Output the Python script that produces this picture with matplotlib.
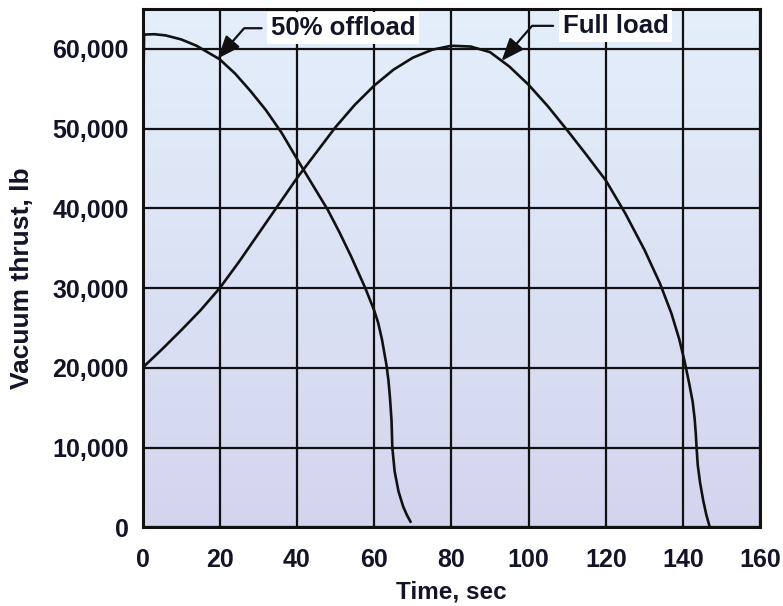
import numpy as np
import matplotlib
matplotlib.use("Agg")
import matplotlib.pyplot as plt
from matplotlib.colors import LinearSegmentedColormap

plt.rcParams['font.family'] = ['Liberation Sans', 'DejaVu Sans']
plt.rcParams['font.weight'] = 'bold'

# thrust traces (time in sec, thrust in lb)
t_full = [0, 5, 10, 15, 20, 25, 30, 35, 40, 45, 50, 55, 60, 65, 70, 75, 80, 85,
          90, 95, 100, 105, 110, 115, 120, 125, 130, 134, 137, 139, 140.4, 141.6,
          142.5, 143.0, 143.3, 143.5, 143.8, 144.4, 145.2, 146.0, 146.8]
v_full = [20000, 22300, 24700, 27200, 30000, 33300, 36800, 40300, 43800, 47000,
          50200, 53000, 55400, 57400, 58900, 59900, 60400, 60300, 59600, 57800,
          55500, 52800, 49800, 46700, 43500, 39400, 34800, 30600, 26800, 23600,
          20800, 18000, 15700, 13600, 11700, 10000, 7800, 5600, 3400, 1600, 200]

t_half = [0, 0.4, 3, 6, 10, 14, 20, 24, 28, 32, 36, 41, 44.5, 48, 51, 54, 57.7,
          60, 61, 62, 63.2, 63.7, 64.1, 64.5, 64.7, 65.3, 66.3, 67.5, 68.5, 69.4]
v_half = [46000, 61800, 61850, 61700, 61200, 60400, 58700, 56900, 54700, 52300,
          49500, 45400, 42600, 39800, 37000, 34000, 30000, 27200, 25700, 23600,
          20300, 18400, 16200, 13300, 10000, 7000, 4500, 2600, 1500, 700]

x_ticks = [0, 20, 40, 60, 80, 100, 120, 140, 160]
y_ticks = [0, 10000, 20000, 30000, 40000, 50000, 60000]

txt = '#141428'

fig = plt.figure(figsize=(7.83, 6.06), dpi=100)
ax = fig.add_axes([0.182, 0.130, 0.789, 0.855])

# background gradient, light blue at top to lavender at bottom
cmap = LinearSegmentedColormap.from_list('bg', ['#d3d5ee', '#e4effb'])
grad = np.linspace(0, 1, 256).reshape(-1, 1)
ax.imshow(grad, cmap=cmap, origin='lower', aspect='auto',
          extent=[0, 160, 0, 65000], zorder=0)

ax.plot(t_full, v_full, color='#111111', lw=1.9, zorder=3)
ax.plot(t_half, v_half, color='#111111', lw=1.9, zorder=3)

ax.set_xlim(0, 160)
ax.set_ylim(0, 65000)
ax.set_xticks(x_ticks)
ax.set_yticks(y_ticks)
ax.set_yticklabels(['{:,}'.format(v) for v in y_ticks])
ax.grid(True, color='#111111', lw=1.6, zorder=1)
ax.set_axisbelow(False)
ax.tick_params(axis='both', length=0, labelsize=18, labelcolor=txt)
ax.tick_params(axis='x', pad=15)
ax.tick_params(axis='y', pad=10)
for s in ax.spines.values():
    s.set_linewidth(2.2)
    s.set_color('#111111')
    s.set_zorder(4)

ax.set_xlabel('Time, sec', fontsize=17.5, fontweight='bold', color=txt, labelpad=6)
ax.set_ylabel('Vacuum thrust, lb', fontsize=19, fontweight='bold', color=txt)
ax.yaxis.set_label_coords(-0.176, 0.48)

box = dict(boxstyle='square,pad=0.15', fc='white', ec='none')
arrow = dict(arrowstyle='-|>,head_length=0.75,head_width=0.3', color='#111111',
             lw=1.6, shrinkA=4, shrinkB=0,
             connectionstyle='angle,angleA=0,angleB=49,rad=0')
ax.annotate('50% offload', xy=(19.5, 58800), xytext=(52, 62600),
            ha='center', va='center', fontsize=18.5, color=txt, bbox=box,
            arrowprops=arrow, zorder=5)
ax.annotate('Full load', xy=(93, 58500), xytext=(122.5, 62900),
            ha='center', va='center', fontsize=18.5, color=txt, bbox=box,
            arrowprops=arrow, zorder=5)

fig.savefig('out.png', dpi=100)
